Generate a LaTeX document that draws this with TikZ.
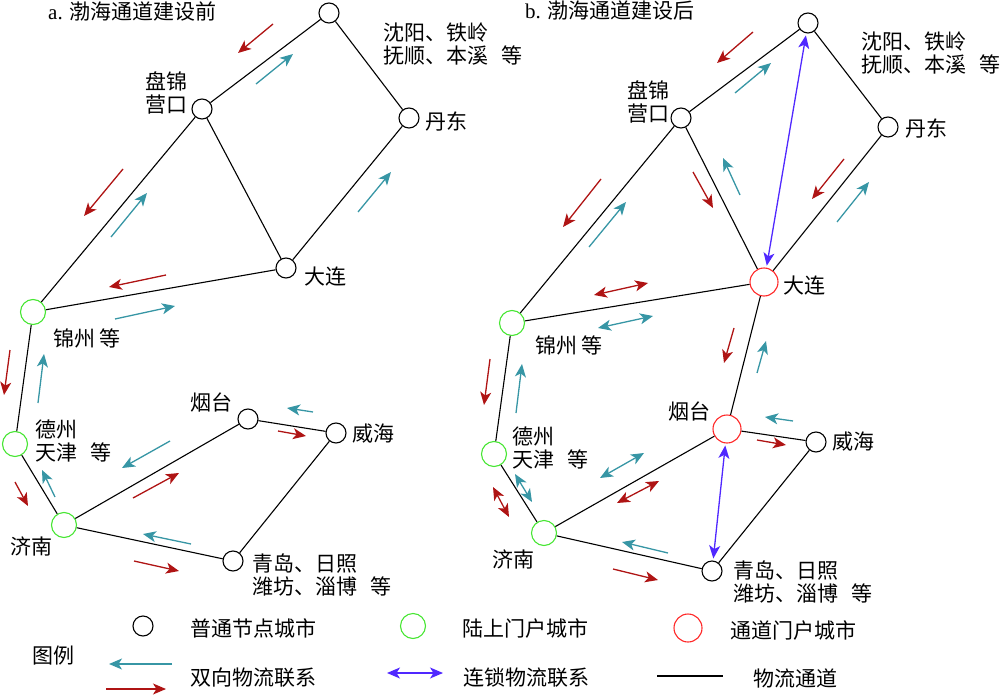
\documentclass[tikz,border=0pt]{standalone}
\usepackage{fontspec}
\setmainfont{Liberation Serif}
\newfontfamily\cjk{Noto Sans CJK SC}
\usetikzlibrary{arrows.meta}
\definecolor{cTeal}{RGB}{55,150,165}
\definecolor{cDark}{RGB}{175,20,20}
\definecolor{cBlue}{RGB}{80,40,255}
\definecolor{gGreen}{RGB}{70,230,50}
\definecolor{gRed}{RGB}{255,40,40}
\begin{document}
\begin{tikzpicture}[x=1pt,y=-1pt,
  city/.style={circle,draw=black,fill=white,line width=1.1pt,minimum size=20pt,inner sep=0pt},
  land/.style={city,draw=gGreen,minimum size=25pt},
  gate/.style={city,draw=gRed,minimum size=28pt},
  road/.style={line width=1.1pt,draw=black},
  lab/.style={font=\cjk\fontsize{21}{23}\selectfont,inner sep=0pt,anchor=west,align=left},
  tip/.tip={Stealth[length=13pt,width=11pt,inset=3.5pt]},
  tflow/.style={draw=cTeal,line width=1.3pt,-tip},
  rflow/.style={draw=cDark,line width=1.3pt,-tip},
  tboth/.style={draw=cTeal,line width=1.3pt,tip-tip},
  rboth/.style={draw=cDark,line width=1.3pt,tip-tip},
  bboth/.style={draw=cBlue,line width=1.3pt,tip-tip,shorten >=2pt,shorten <=2pt},
]
\useasboundingbox (0,0) rectangle (1000,695);

% ---------------- panel a ----------------
\node[lab] at (48,12) {{\rmfamily a. }渤海通道建设前};
\node[city] (s1) at (329,13) {};
\node[city] (p1) at (202,109) {};
\node[city] (dd1) at (409,118) {};
\node[city] (dl1) at (286,268) {};
\node[land] (j1) at (33,312) {};
\node[land] (dz1) at (15,444) {};
\node[land] (jn1) at (64,525) {};
\node[city] (y1) at (248,419) {};
\node[city] (w1) at (336,433) {};
\node[city] (q1) at (233,561) {};

\draw[road] (s1) -- (p1);
\draw[road] (s1) -- (dd1);
\draw[road] (p1) -- (dl1);
\draw[road] (p1) -- (j1);
\draw[road] (dd1) -- (dl1);
\draw[road] (dl1) -- (j1);
\draw[road] (j1) -- (dz1);
\draw[road] (dz1) -- (jn1);
\draw[road] (jn1) -- (y1);
\draw[road] (jn1) -- (q1);
\draw[road] (y1) -- (w1);
\draw[road] (w1) -- (q1);

\node[lab] at (383,44) {沈阳、铁岭\\抚顺、本溪\hspace{13pt}等};
\node[lab] at (145,93) {盘锦\\营口};
\node[lab] at (425,121) {丹东};
\node[lab] at (304,277) {大连};
\node[lab] at (53,338) {锦州 等};
\node[lab] at (35,441) {德州\\天津\hspace{13pt}等};
\node[lab] at (190,402) {烟台};
\node[lab] at (352,434) {威海};
\node[lab] at (10,546) {济南};
\node[lab] at (252,575) {青岛、日照\\潍坊、淄博\hspace{13pt}等};

\draw[rflow] (273,24) -- (238,53);
\draw[tflow] (256,84) -- (293,54);
\draw[rflow] (123,169) -- (84,216);
\draw[tflow] (111,237) -- (147,193);
\draw[tflow] (358,212) -- (391,172);
\draw[rflow] (166,275) -- (109,287);
\draw[tflow] (115,319) -- (175,306);
\draw[rflow] (10,350) -- (4,395);
\draw[tflow] (38,403) -- (44,354);
\draw[rflow] (15,482) -- (28,506);
\draw[tflow] (55,497) -- (42,470);
\draw[tflow] (170,441) -- (122,468);
\draw[rflow] (133,498) -- (179,473);
\draw[tflow] (313,412) -- (287,408);
\draw[rflow] (278,431) -- (306,436);
\draw[tflow] (191,544) -- (143,534);
\draw[rflow] (134,561) -- (179,571);

% ---------------- panel b ----------------
\node[lab] at (525,11) {{\rmfamily b. }渤海通道建设后};
\node[city] (s2) at (808,23) {};
\node[city] (p2) at (681,118) {};
\node[city] (dd2) at (888,127) {};
\node[gate] (dl2) at (764,282) {};
\node[land] (j2) at (512,323) {};
\node[land] (dz2) at (494,454) {};
\node[land] (jn2) at (544,533) {};
\node[gate] (y2) at (727,429) {};
\node[city] (w2) at (816,442) {};
\node[city] (q2) at (712,571) {};

\draw[road] (s2) -- (p2);
\draw[road] (s2) -- (dd2);
\draw[road] (p2) -- (dl2);
\draw[road] (p2) -- (j2);
\draw[road] (dd2) -- (dl2);
\draw[road] (dl2) -- (j2);
\draw[road] (dl2) -- (y2);
\draw[road] (j2) -- (dz2);
\draw[road] (dz2) -- (jn2);
\draw[road] (jn2) -- (y2);
\draw[road] (jn2) -- (q2);
\draw[road] (y2) -- (w2);
\draw[road] (w2) -- (q2);

\node[lab] at (861,53) {沈阳、铁岭\\抚顺、本溪\hspace{13pt}等};
\node[lab] at (627,102) {盘锦\\营口};
\node[lab] at (905,128) {丹东};
\node[lab] at (783,286) {大连};
\node[lab] at (535,345) {锦州 等};
\node[lab] at (512,448) {德州\\天津\hspace{13pt}等};
\node[lab] at (668,411) {烟台};
\node[lab] at (832,442) {威海};
\node[lab] at (492,559) {济南};
\node[lab] at (733,582) {青岛、日照\\潍坊、淄博\hspace{13pt}等};

\draw[rflow] (753,32) -- (717,63);
\draw[tflow] (735,93) -- (771,63);
\draw[bboth] (s2) -- (dl2);
\draw[rflow] (601,179) -- (563,227);
\draw[tflow] (589,247) -- (626,202);
\draw[rflow] (693,172) -- (713,208);
\draw[tflow] (740,195) -- (723,158);
\draw[rflow] (844,159) -- (812,199);
\draw[tflow] (837,222) -- (869,182);
\draw[rboth] (594,295) -- (648,283);
\draw[tboth] (598,328) -- (653,316);
\draw[rflow] (734,328) -- (724,363);
\draw[tflow] (757,373) -- (766,341);
\draw[rflow] (490,359) -- (484,405);
\draw[tflow] (516,413) -- (522,364);
\draw[rboth] (493,487) -- (509,517);
\draw[tboth] (515,474) -- (532,502);
\draw[tboth] (600,478) -- (644,453);
\draw[rboth] (617,503) -- (659,481);
\draw[tflow] (793,421) -- (765,417);
\draw[rflow] (757,440) -- (786,445);
\draw[bboth] (y2) -- (q2);
\draw[tflow] (668,553) -- (622,542);
\draw[rflow] (613,569) -- (658,580);

% ---------------- legend ----------------
\node[city] (lg1) at (143,626) {};
\node[lab] at (190,628) {普通节点城市};
\node[land] (lg2) at (413,626) {};
\node[lab] at (462,628) {陆上门户城市};
\node[gate] (lg3) at (688,628) {};
\node[lab] at (730,630) {通道门户城市};
\node[lab] at (32,656) {图例};
\draw[tflow] (172,664) -- (109,664);
\draw[rflow] (106,689) -- (166,689);
\node[lab] at (190,678) {双向物流联系};
\draw[draw=cBlue,line width=1.3pt,tip-tip] (387,673) -- (443,673);
\node[lab] at (463,678) {连锁物流联系};
\draw[road] (657,676) -- (723,676);
\node[lab] at (753,678) {物流通道};
\end{tikzpicture}
\end{document}
